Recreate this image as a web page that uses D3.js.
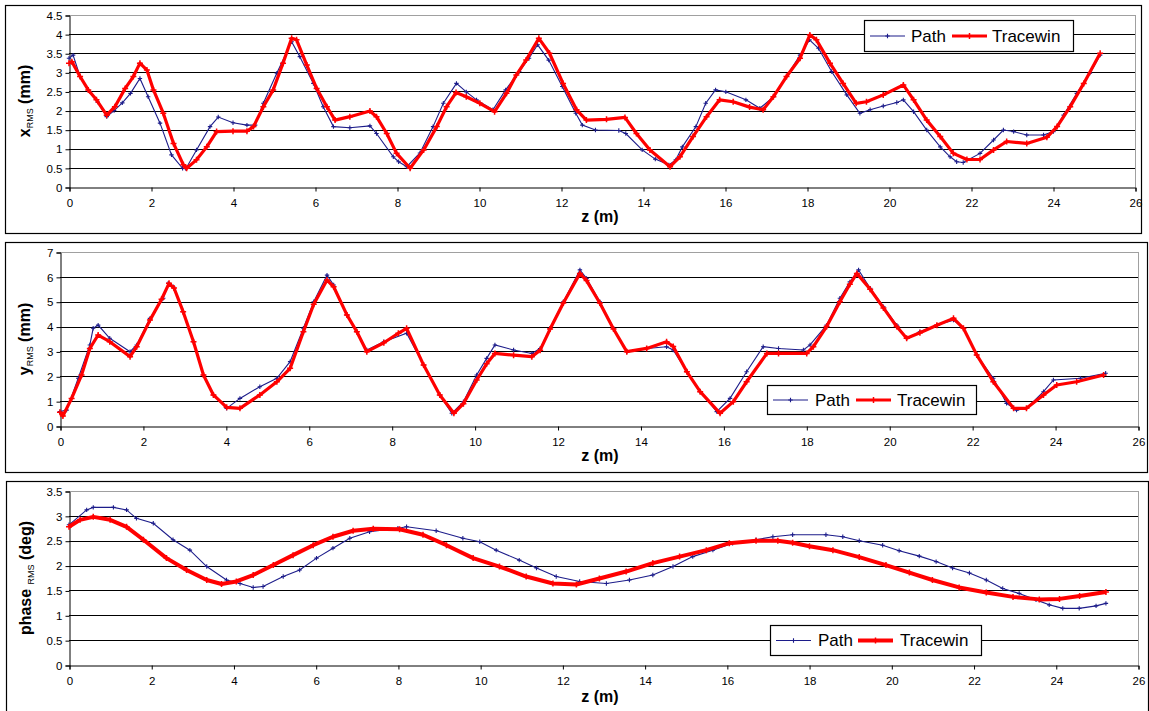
<!DOCTYPE html>
<html><head><meta charset="utf-8">
<script src="https://cdn.jsdelivr.net/npm/d3@7"></script>
<style>body{margin:0;background:#fff}svg{display:block;font-family:Arial,"Liberation Sans",sans-serif}</style>
</head><body><svg id="c" width="1149" height="711"></svg>
<script>
const zTicks = [0,2,4,6,8,10,12,14,16,18,20,22,24,26];
const seriesNames = ["Path","Tracewin"];

const xrmsPath = [[0,3.37],[0.1,3.45],[0.27,2.89],[0.5,2.5],[0.7,2.22],[0.92,1.84],[1.1,2.0],[1.3,2.2],[1.5,2.45],[1.73,2.84],[1.93,2.36],[2.22,1.67],[2.5,0.84],[2.77,0.49],[2.85,0.48],[3.11,0.97],[3.44,1.58],[3.64,1.83],[4.0,1.68],[4.34,1.62],[4.54,1.62],[4.74,2.19],[5.07,2.98],[5.43,3.80],[5.63,3.41],[5.96,2.71],[6.2,2.10],[6.45,1.58],[6.85,1.55],[7.34,1.60],[7.5,1.40],[7.91,0.79],[8.04,0.66],[8.24,0.53],[8.56,0.89],[8.88,1.58],[9.13,2.19],[9.45,2.71],[9.69,2.49],[9.94,2.28],[10.34,2.02],[10.65,2.54],[10.98,3.02],[11.22,3.37],[11.43,3.72],[11.7,3.32],[12.03,2.63],[12.36,1.93],[12.52,1.62],[12.84,1.49],[13.41,1.48],[13.58,1.40],[13.98,0.97],[14.3,0.73],[14.63,0.58],[14.8,0.71],[14.96,1.05],[15.29,1.58],[15.53,2.19],[15.77,2.54],[16.02,2.49],[16.51,2.28],[16.85,2.06],[17.18,2.36],[17.5,2.89],[17.83,3.45],[18.06,3.85],[18.28,3.63],[18.6,3.02],[18.97,2.41],[19.29,1.93],[19.54,2.02],[19.86,2.12],[20.19,2.21],[20.35,2.28],[20.6,1.97],[20.92,1.49],[21.25,1.05],[21.49,0.79],[21.65,0.66],[21.81,0.64],[22.22,0.88],[22.55,1.23],[22.79,1.49],[23.04,1.45],[23.36,1.36],[23.77,1.36],[24.01,1.45],[24.26,1.88],[24.58,2.45],[24.9,2.98],[25.15,3.45]];
const xrmsTrace = [[0,3.24],[0.07,3.28],[0.27,2.89],[0.47,2.54],[0.67,2.28],[0.92,1.88],[1.12,2.10],[1.37,2.58],[1.57,2.89],[1.73,3.24],[1.9,3.06],[2.06,2.54],[2.3,1.93],[2.55,1.14],[2.79,0.58],[2.87,0.49],[3.11,0.71],[3.36,1.05],[3.6,1.45],[4.0,1.46],[4.34,1.46],[4.5,1.58],[4.74,2.10],[4.98,2.54],[5.22,3.24],[5.43,3.89],[5.55,3.85],[5.8,3.19],[6.04,2.58],[6.29,2.10],[6.49,1.75],[6.85,1.84],[7.34,1.99],[7.5,1.84],[7.75,1.40],[7.99,0.88],[8.32,0.49],[8.65,0.97],[8.97,1.58],[9.21,2.10],[9.44,2.47],[9.69,2.36],[10.02,2.19],[10.38,1.97],[10.67,2.45],[10.91,2.93],[11.15,3.32],[11.46,3.89],[11.72,3.50],[12.05,2.71],[12.38,2.02],[12.62,1.75],[13.11,1.77],[13.56,1.82],[13.84,1.40],[14.17,0.97],[14.66,0.53],[14.9,0.79],[15.22,1.32],[15.55,1.84],[15.87,2.28],[16.2,2.23],[16.6,2.09],[16.93,2.02],[17.18,2.36],[17.5,2.89],[17.83,3.37],[18.07,3.98],[18.23,3.85],[18.56,3.24],[18.88,2.71],[19.2,2.19],[19.45,2.23],[19.86,2.41],[20.35,2.67],[20.6,2.28],[20.92,1.75],[21.25,1.32],[21.57,0.88],[21.9,0.72],[22.22,0.72],[22.55,0.97],[22.87,1.19],[23.36,1.14],[23.85,1.30],[24.1,1.58],[24.42,2.10],[24.75,2.71],[25.15,3.50]];

const yrmsPath = [[0,0.58],[0.16,0.64],[0.44,1.92],[0.72,3.26],[0.8,3.93],[0.92,4.06],[1.2,3.53],[1.69,2.99],[1.85,3.26],[2.17,4.33],[2.49,5.14],[2.61,5.74],[2.73,5.6],[2.97,4.6],[3.22,3.39],[3.46,2.05],[3.7,1.25],[4.02,0.71],[4.34,1.11],[4.82,1.58],[5.23,1.92],[5.55,2.59],[5.87,3.93],[6.12,5.0],[6.44,6.07],[6.6,5.67],[6.92,4.47],[7.16,3.79],[7.4,3.06],[7.81,3.39],[8.36,3.73],[8.77,2.45],[9.16,1.25],[9.45,0.51],[9.73,0.98],[10.05,2.05],[10.29,2.72],[10.49,3.26],[10.94,3.06],[11.38,2.92],[11.58,3.12],[11.82,3.93],[12.14,5.0],[12.54,6.28],[12.7,5.94],[13.02,5.0],[13.35,3.93],[13.67,2.99],[14.15,3.12],[14.63,3.19],[14.79,3.06],[15.12,2.18],[15.44,1.38],[15.84,0.58],[16.16,1.11],[16.56,2.18],[16.96,3.19],[17.33,3.12],[17.93,3.06],[18.09,3.26],[18.49,4.06],[18.81,5.14],[19.05,5.8],[19.26,6.28],[19.54,5.54],[19.86,4.8],[20.18,4.06],[20.42,3.53],[20.74,3.79],[21.15,4.06],[21.55,4.26],[21.79,3.93],[22.11,2.86],[22.51,1.92],[22.83,0.91],[23.07,0.64],[23.31,0.71],[23.72,1.38],[23.96,1.85],[24.61,1.92],[25.22,2.12]];
const yrmsTrace = [[0,0.55],[0.07,0.4],[0.28,1.11],[0.52,2.05],[0.72,3.12],[0.92,3.66],[1.2,3.39],[1.69,2.79],[1.85,3.19],[2.17,4.26],[2.45,5.1],[2.63,5.74],[2.75,5.55],[2.97,4.6],[3.22,3.39],[3.46,2.05],[3.7,1.25],[4.02,0.75],[4.34,0.71],[4.82,1.25],[5.23,1.78],[5.55,2.32],[5.87,3.79],[6.12,4.9],[6.44,5.87],[6.6,5.6],[6.92,4.47],[7.16,3.79],[7.4,2.99],[7.81,3.35],[8.16,3.73],[8.36,3.93],[8.77,2.45],[9.16,1.25],[9.5,0.51],[9.73,0.9],[10.05,1.85],[10.29,2.5],[10.49,2.92],[10.94,2.85],[11.38,2.79],[11.58,3.05],[11.82,3.9],[12.14,4.95],[12.54,6.14],[12.7,5.85],[13.02,4.95],[13.35,3.9],[13.67,2.99],[14.15,3.12],[14.63,3.39],[14.79,3.2],[15.12,2.18],[15.44,1.38],[15.92,0.51],[16.24,0.98],[16.56,1.78],[17.05,2.92],[17.33,2.92],[18.01,2.92],[18.17,3.19],[18.49,4.0],[18.81,5.0],[19.05,5.7],[19.22,6.14],[19.54,5.5],[19.86,4.75],[20.18,4.0],[20.42,3.53],[20.74,3.75],[21.15,4.05],[21.55,4.33],[21.79,3.93],[22.11,2.86],[22.51,1.78],[23.0,0.71],[23.31,0.71],[23.72,1.25],[24.04,1.65],[24.52,1.78],[25.17,2.05]];

const phasePath = [[0,2.82],[0.43,3.12],[0.59,3.17],[1.08,3.17],[1.4,3.12],[1.64,2.95],[2.05,2.85],[2.53,2.52],[2.94,2.31],[3.35,1.98],[3.83,1.71],[4.16,1.64],[4.48,1.56],[4.72,1.58],[5.21,1.78],[5.61,1.91],[6.02,2.15],[6.42,2.35],[6.83,2.55],[7.31,2.68],[8.0,2.75],[8.21,2.78],[8.93,2.70],[9.58,2.55],[9.99,2.48],[10.39,2.31],[10.95,2.11],[11.37,1.95],[11.85,1.78],[12.42,1.68],[13.07,1.64],[13.63,1.71],[14.2,1.81],[14.69,1.98],[15.17,2.18],[15.66,2.31],[16.14,2.45],[16.71,2.52],[17.12,2.58],[17.6,2.62],[18.41,2.62],[18.82,2.58],[19.22,2.50],[19.79,2.41],[20.19,2.30],[20.68,2.19],[21.09,2.08],[21.49,1.95],[21.9,1.85],[22.31,1.71],[22.71,1.54],[23.11,1.44],[23.52,1.31],[23.84,1.21],[24.17,1.14],[24.57,1.14],[24.98,1.19],[25.22,1.24]];
const phaseTrace = [[0,2.78],[0.27,2.92],[0.59,2.98],[1.0,2.92],[1.4,2.78],[1.81,2.52],[2.37,2.15],[2.86,1.91],[3.35,1.71],[3.71,1.63],[4.07,1.68],[4.48,1.81],[4.97,2.01],[5.45,2.21],[5.94,2.41],[6.42,2.58],[6.91,2.70],[7.4,2.74],[8.04,2.73],[8.61,2.62],[9.18,2.41],[9.83,2.15],[10.47,1.98],[11.12,1.78],[11.77,1.64],[12.34,1.62],[12.9,1.74],[13.55,1.88],[14.2,2.05],[14.85,2.18],[15.5,2.31],[16.06,2.45],[16.71,2.50],[17.24,2.50],[17.6,2.46],[18.01,2.39],[18.58,2.31],[19.22,2.17],[19.87,2.01],[20.44,1.86],[21.0,1.71],[21.65,1.56],[22.31,1.46],[22.96,1.37],[23.6,1.32],[24.09,1.33],[24.58,1.39],[25.22,1.47]];

const xrmsTicks = [0,0.5,1,1.5,2,2.5,3,3.5,4,4.5];
const yrmsTicks = [0,1,2,3,4,5,6,7];
const phaseTicks = [0,0.5,1,1.5,2,2.5,3,3.5];

const svg = d3.select("#c");
const BLUE = "#1c1c8a", RED = "#ff0000";

const panels = [
  {box:[5,5,1136,228], px:[69,1135], py:[187,15], ticks:xrmsTicks, path:xrmsPath, trace:xrmsTrace,
   title:["x","RMS"," (mm)"], titleX:26, zLabelY:222, tickLabelY:207, traceW:3.2,
   legend:{x:864,y:20,w:209,h:31, l1:870, t1:911, l2:952, t2:992}},
  {box:[5,242,1142,230], px:[60,1138], py:[426,252], ticks:yrmsTicks, path:yrmsPath, trace:yrmsTrace,
   title:["y","RMS"," (mm)"], titleX:26, zLabelY:461, tickLabelY:446, traceW:3.2,
   legend:{x:767,y:385,w:209,h:29, l1:773, t1:815, l2:856, t2:897}},
  {box:[6,481,1142,240], px:[69,1138], py:[665,491], ticks:phaseTicks, path:phasePath, trace:phaseTrace,
   title:["phase ","RMS"," (deg)"], titleX:27, zLabelY:702, tickLabelY:685, traceW:4,
   legend:{x:770,y:625,w:211,h:30, l1:776, t1:818, l2:858, t2:900}}
];

function plus(g, pts, x, y, color, arm, sw){
  g.selectAll(null).data(pts).enter().append("path")
    .attr("d", d => `M${x(d[0])-arm},${y(d[1])}h${2*arm}M${x(d[0])},${y(d[1])-arm}v${2*arm}`)
    .attr("stroke", color).attr("stroke-width", sw).attr("fill","none");
}

panels.forEach(p => {
  const g = svg.append("g");
  g.append("rect").attr("x",p.box[0]+0.5).attr("y",p.box[1]+0.5).attr("width",p.box[2]).attr("height",p.box[3])
    .attr("fill","#fff").attr("stroke","#000").attr("stroke-width",1.2);
  const x = d3.scaleLinear().domain([0,26]).range(p.px);
  const ymax = p.ticks[p.ticks.length-1];
  const y = d3.scaleLinear().domain([0,ymax]).range(p.py);
  // gridlines
  g.selectAll(null).data(p.ticks.filter(t => t>0)).enter().append("line")
    .attr("x1",p.px[0]).attr("x2",p.px[1]).attr("y1",d=>Math.round(y(d))+0.5).attr("y2",d=>Math.round(y(d))+0.5)
    .attr("stroke", d => d===ymax ? "#a0a0a0" : "#000").attr("stroke-width",1);
  g.append("line").attr("x1",p.px[1]+0.5).attr("x2",p.px[1]+0.5).attr("y1",p.py[1]).attr("y2",p.py[0])
    .attr("stroke","#a0a0a0");
  // axes
  const ya = g.append("g").attr("transform",`translate(${p.px[0]+0.5},0.5)`)
    .call(d3.axisLeft(y).tickValues(p.ticks).tickSize(4).tickPadding(3).tickFormat(d => String(d)));
  ya.select(".domain").attr("stroke","#000");
  ya.selectAll("text").attr("font-size",11.5).attr("font-family","Arial,'Liberation Sans',sans-serif").attr("fill","#000");
  const xa = g.append("g").attr("transform",`translate(0.5,${p.py[0]+0.5})`)
    .call(d3.axisBottom(x).tickValues(zTicks).tickSize(4).tickPadding(7).tickFormat(d => String(d)));
  xa.select(".domain").attr("stroke","#000");
  xa.selectAll("text").attr("font-size",11.5).attr("font-family","Arial,'Liberation Sans',sans-serif").attr("fill","#000");
  // series
  const line = d3.line().x(d=>x(d[0])).y(d=>y(d[1]));
  g.append("path").datum(p.path).attr("d",line).attr("fill","none").attr("stroke",BLUE).attr("stroke-width",1.1);
  plus(g, p.path, x, y, BLUE, 2.2, 1.1);
  g.append("path").datum(p.trace).attr("d",line).attr("fill","none").attr("stroke",RED).attr("stroke-width",p.traceW).attr("stroke-linejoin","round");
  plus(g, p.trace, x, y, RED, 3, 1.5);
  // y title
  const cy = (p.py[0]+p.py[1])/2;
  const t = g.append("text").attr("transform",`translate(${p.titleX},${cy}) rotate(-90)`)
    .attr("text-anchor","middle").attr("dominant-baseline","middle").attr("font-weight","bold").attr("font-size",16);
  t.append("tspan").text(p.title[0]);
  t.append("tspan").text(p.title[1]).attr("font-size",9).attr("font-weight","normal").attr("dy",5);
  t.append("tspan").text(p.title[2]).attr("dy",-5);
  // x title
  g.append("text").attr("x",600).attr("y",p.zLabelY).attr("text-anchor","middle").attr("font-weight","bold")
    .attr("font-size",16).text("z (m)");
  // legend
  const L = p.legend;
  const lg = g.append("g");
  lg.append("rect").attr("x",L.x+0.5).attr("y",L.y+0.5).attr("width",L.w).attr("height",L.h).attr("fill","#fff").attr("stroke","#000").attr("stroke-width",1.2);
  const my = L.y + L.h/2 + 0.5;
  lg.append("line").attr("x1",L.l1).attr("x2",L.l1+35).attr("y1",my).attr("y2",my).attr("stroke",BLUE).attr("stroke-width",1.1);
  plus(lg, [[L.l1+17.5,0]], d=>d, ()=>my, BLUE, 2.2, 1.1);
  lg.append("line").attr("x1",L.l2).attr("x2",L.l2+35).attr("y1",my).attr("y2",my).attr("stroke",RED).attr("stroke-width",p.traceW);
  plus(lg, [[L.l2+17.5,0]], d=>d, ()=>my, RED, 3, 1.5);
  lg.append("text").attr("x",L.t1).attr("y",my).attr("dominant-baseline","central").attr("font-size",17).text(seriesNames[0]);
  lg.append("text").attr("x",L.t2).attr("y",my).attr("dominant-baseline","central").attr("font-size",17).text(seriesNames[1]);
});
</script></body></html>
